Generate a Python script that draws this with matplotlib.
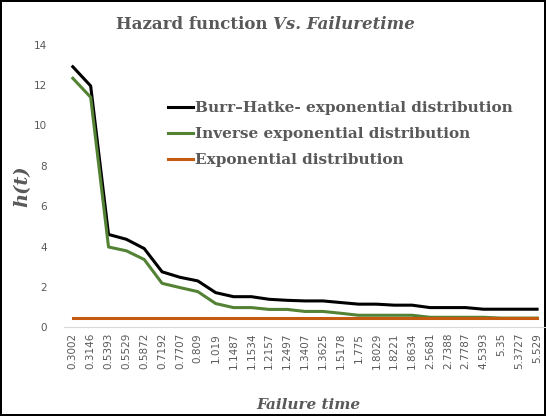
import matplotlib
matplotlib.use('Agg')
import matplotlib.pyplot as plt
import numpy as np

failure_times = ['0.3002', '0.3146', '0.5393', '0.5529', '0.5872', '0.7192', '0.7707', '0.809',
                 '1.019', '1.1487', '1.1534', '1.2157', '1.2497', '1.3407', '1.3625', '1.5178',
                 '1.775', '1.8029', '1.8221', '1.8634', '2.5681', '2.7388', '2.7787', '4.5393',
                 '5.35', '5.3727', '5.529']
burr_hatke = [12.9, 11.95, 4.6, 4.36, 3.9, 2.75, 2.48, 2.3, 1.72, 1.52, 1.52, 1.39, 1.34, 1.31,
              1.31, 1.23, 1.15, 1.15, 1.1, 1.1, 0.98, 0.98, 0.98, 0.9, 0.9, 0.9, 0.9]
inverse_exp = [12.33, 11.39, 3.98, 3.79, 3.36, 2.18, 1.97, 1.77, 1.18, 0.98, 0.98, 0.89, 0.89,
               0.79, 0.79, 0.7, 0.6, 0.6, 0.6, 0.6, 0.5, 0.5, 0.5, 0.5, 0.46, 0.46, 0.46]
exponential = [0.48] * len(failure_times)

grey = '#595959'
serif = ['DejaVu Serif']

fig = plt.figure(figsize=(5.46, 4.16), dpi=100)
fig.patch.set_edgecolor('black')
fig.patch.set_linewidth(1.5)
ax = fig.add_axes([0.117, 0.213, 0.883, 0.68])
ax.patch.set_alpha(0)

x = np.arange(len(failure_times))
ax.plot(x, burr_hatke, color='black', linewidth=2.2, label='Burr\u2013Hatke- exponential distribution')
ax.plot(x, inverse_exp, color='#548235', linewidth=2.2, label='Inverse exponential distribution')
ax.plot(x, exponential, color='#C55A11', linewidth=2.2, label='Exponential distribution')

ax.set_xlim(-0.5, len(failure_times) - 0.5)
ax.set_ylim(0, 14)
ax.set_yticks(np.arange(0, 15, 2))
ax.set_xticks(x)
ax.set_xticklabels(failure_times, rotation=90, fontsize=7.5, color=grey)
ax.tick_params(axis='y', length=0, labelsize=7.5, labelcolor=grey, pad=12)
ax.tick_params(axis='x', length=0, pad=4)

ax.spines['right'].set_visible(False)
ax.spines['top'].set_visible(False)
ax.spines['left'].set_visible(False)
ax.spines['bottom'].set_color('#d9d9d9')

fig.text(0.5, 0.94, 'Hazard function ', ha='right', va='center', fontsize=12,
         fontweight='bold', color=grey, family=serif)
fig.text(0.5, 0.94, 'Vs. Failuretime', ha='left', va='center', fontsize=12,
         fontweight='bold', style='italic', color=grey, family=serif)

ax.set_ylabel('h(t)', fontsize=14, fontweight='bold', style='italic', color=grey,
              family=serif, labelpad=2)
fig.text(0.565, 0.01, 'Failure time', ha='center', va='bottom', fontsize=11,
         fontweight='bold', style='italic', color=grey, family=serif)

leg = ax.legend(loc='upper left', bbox_to_anchor=(0.283, 0.79), bbox_transform=fig.transFigure,
                frameon=False, handlelength=1.6, handletextpad=0.15, labelspacing=0.78,
                prop={'family': serif, 'weight': 'bold', 'size': 11})
for t in leg.get_texts():
    t.set_color(grey)

plt.savefig('out.png', dpi=100)
plt.close()
